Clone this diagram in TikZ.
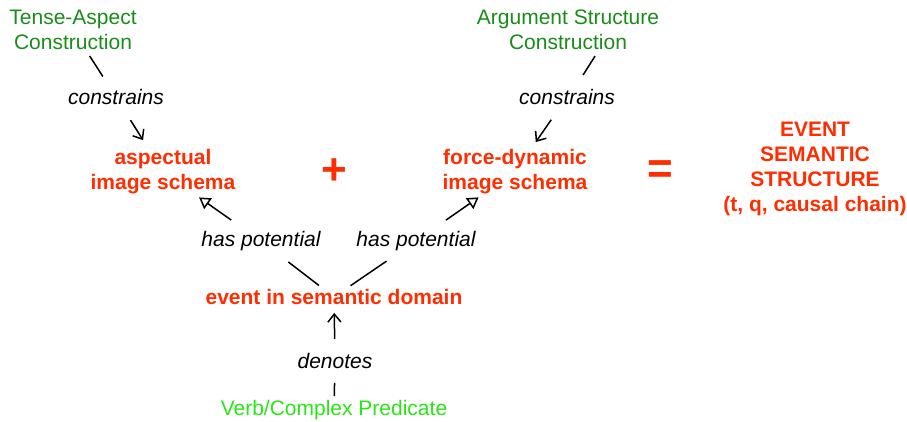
\documentclass[tikz,border=0pt]{standalone}
\usepackage{fontspec}
\setmainfont{Liberation Sans}
\usetikzlibrary{arrows.meta}
\definecolor{schemared}{RGB}{255,45,0}
\definecolor{cxngreen}{RGB}{25,140,25}
\definecolor{verbgreen}{RGB}{40,230,20}
\begin{document}
\begin{tikzpicture}[
  x=1pt, y=-1pt,
  every node/.style={font=\fontsize{21}{25}\selectfont, align=center, inner sep=0pt},
  cxn/.style={text=cxngreen},
  rel/.style={font=\fontsize{21}{25}\selectfont\itshape},
  schema/.style={text=schemared, font=\fontsize{21}{25}\selectfont\bfseries},
  op/.style={text=schemared, font=\fontsize{44}{44}\selectfont\bfseries},
  link/.style={line width=1.5pt},
  points/.style={link, -{Straight Barb[length=8pt,width=13pt,line width=1.5pt]}},
  potential/.style={link, -{Triangle[open,length=11pt,width=13pt,line width=1.5pt]}}
]
\useasboundingbox (0,0) rectangle (907,422);
\node[cxn] (tac) at (73,30) {Tense-Aspect\\Construction};
\node[cxn] (asc) at (568,30) {Argument Structure\\Construction};
\node[rel] (consL) at (116,97) {constrains};
\node[rel] (consR) at (567,97) {constrains};
\node[schema] (asp) at (163,172) {aspectual\\image schema};
\node[schema] (force) at (515,172) {force-dynamic\\image schema};
\node[op] (plus) at (334,172) {+};
\node[op] (equals) at (660,172) {=};
\node[schema] (ess) at (815,169) {EVENT\\SEMANTIC\\STRUCTURE\\(t, q, causal chain)};
\node[rel] (hpL) at (261,241) {has potential};
\node[rel] (hpR) at (416,241) {has potential};
\node[schema] (event) at (334,297) {event in semantic domain};
\node[rel] (den) at (335,361) {denotes};
\node[text=verbgreen] (verb) at (334,410) {Verb/Complex Predicate};

\draw[link, shorten <=7pt, shorten >=15pt] (tac) -- (consL);
\draw[points, shorten <=18pt, shorten >=11pt] (consL) -- (asp);
\draw[link] ([xshift=27pt,yshift=-6pt]asc.south) -- ([xshift=16pt,yshift=14pt]consR.north);
\draw[points, shorten <=18pt, shorten >=9pt] (consR) -- (force);
\draw[potential, shorten <=19pt, shorten >=5pt] (hpL) -- (asp);
\draw[potential, shorten <=19pt, shorten >=5pt] (hpR) -- (force);
\draw[link, shorten <=6pt, shorten >=18pt] (event) -- (hpL);
\draw[link, shorten <=6pt, shorten >=18pt] (event) -- (hpR);
\draw[points, shorten <=14pt, shorten >=8pt] (den) -- (event);
\draw[link, shorten <=4pt, shorten >=14pt] (verb) -- (den);
\end{tikzpicture}
\end{document}
